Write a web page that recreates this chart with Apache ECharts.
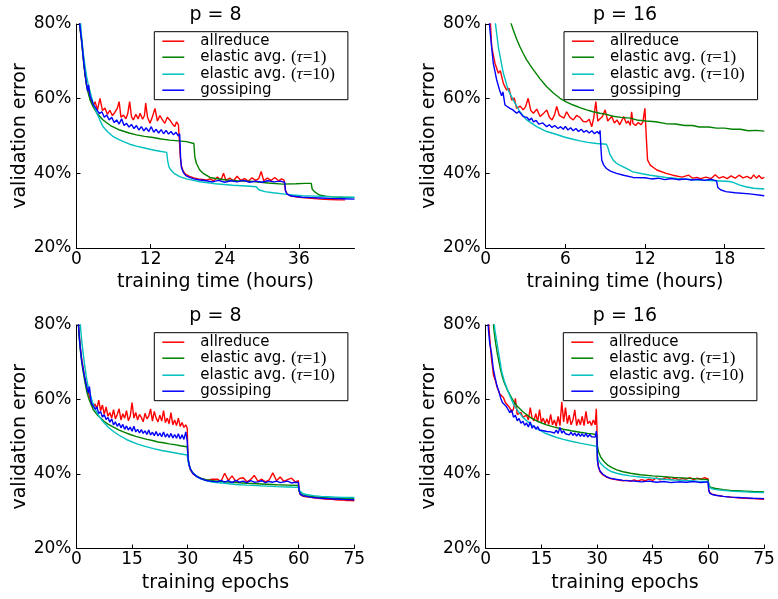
<!DOCTYPE html>
<html>
<head>
<meta charset="utf-8">
<script src="https://cdn.jsdelivr.net/npm/echarts@6/dist/echarts.min.js"></script>
<style>html,body{margin:0;padding:0;background:#fff}#c{width:778px;height:599px}</style>
</head>
<body>
<div id="c"></div>
<script>
// ---------- names / ticks ----------
const seriesNames = ['allreduce', 'elastic avg. (τ=1)', 'elastic avg. (τ=10)', 'gossiping'];
const panelTitles = ['p = 8', 'p = 16', 'p = 8', 'p = 16'];
const xNames = ['training time (hours)', 'training time (hours)', 'training epochs', 'training epochs'];
const xMax = [45, 21, 75, 75];
const xInterval = [12, 6, 15, 15];
const yTicks = [20, 40, 60, 80];

// ---------- top-left: p = 8, hours ----------
const tlAllreduce = [[0.3,84],[0.55,79],[0.84,75.7],[1.1,71.2],[1.37,66.8],[1.65,63.7],[1.9,61.9],[2.2,60.5],[2.5,59.2],[2.8,58.3],
[3.0,59.2],[3.4,57.0],[3.8,60.1],[4.2,56.8],[4.6,57.5],[5.0,55.8],[5.4,56.9],[5.8,55.5],[6.2,56.3],[6.6,57.4],[6.9,59.2],[7.2,55.0],[7.6,55.6],[8.0,54.6],[8.3,56.0],[8.6,59.2],[8.9,55.2],[9.2,54.3],[9.6,55.8],[10.0,54.6],[10.3,56.1],[10.7,54.5],[11.0,55.5],[11.2,58.8],[11.5,55.0],[11.9,53.4],[12.3,55.2],[12.7,57.4],[13.1,54.0],[13.5,55.5],[13.9,54.3],[14.3,53.4],[14.7,55.0],[15.1,54.3],[15.5,53.3],[15.9,52.5],[16.2,53.8],[16.5,53.0],[16.7,52.6],
[16.8,44.5],[17.0,41.8],[17.3,40.5],[17.7,39.7],[18.3,39.2],[19,38.8],[20,38.4],[21,38.2],
[21.6,38.5],[22.2,38.0],[22.8,39.0],[23.4,38.2],[23.8,40.0],[24.2,38.1],[24.8,38.7],[25.4,38.0],[26.0,39.2],[26.6,38.1],[27.2,38.6],[27.8,37.9],[28.4,38.8],[29.0,38.1],[29.5,38.6],[29.9,40.5],[30.3,38.0],[30.9,38.7],[31.5,38.1],[32.1,38.9],[32.7,38.0],[33.2,38.5],[33.6,38.2],
[33.8,35.5],[34.1,34.5],[34.6,34.0],[35.5,33.7],[36.5,33.5],[38,33.3],[39.5,33.1],[41,33.0],[42.5,32.9],[43.5,32.9]];
const tlElastic1 = [[0.3,84],[0.55,79],[0.84,75],[1.1,70.5],[1.37,66.5],[1.65,63.3],[1.9,61.5],[2.2,59.6],[2.7,57.8],[3.3,56.1],[4.3,54.3],[5.5,52.8],[7,51.6],[8.5,50.8],[9.7,50.3],[11,49.9],[12.4,49.6],[13.7,49.2],[15.1,48.9],[16.5,48.7],[17.8,48.5],[19.0,48.0],
[19.15,44.5],[19.4,42.7],[19.95,40.9],[20.5,40],[21,39.5],[21.6,38.9],[22.5,38.6],[24.3,38.2],[26,38.0],[28.6,37.8],[31,37.4],[33.4,37.1],[35.5,37.2],[37,37.3],[38,37.3],
[38.15,35.8],[38.5,35.1],[39.3,34.2],[40.3,33.9],[41.5,33.7],[43,33.6],[45,33.5]];
const tlElastic10 = [[0.5,84],[0.75,78],[1.1,72.1],[1.4,68.5],[1.65,65.9],[1.9,63.8],[2.2,61.9],[2.7,58.8],[3.3,56.1],[3.8,54.2],[4.3,52.5],[5,51.2],[5.95,49.8],[6.8,49.1],[7.6,48.5],[8.6,47.8],[9.7,47.3],[11,46.8],[12.4,46.25],[13.5,45.9],[14.6,45.6],
[14.75,43.5],[14.95,41.8],[15.3,40.8],[15.8,40.0],[16.7,39.1],[17.8,38.5],[20,37.75],[22.5,37.2],[25.3,36.8],[27.5,36.6],[29.1,36.4],[29.3,36.7],
[29.5,35.6],[30.5,35.1],[31.8,34.8],[33.4,34.5],[35,34.2],[36.5,34.0],[38.8,33.9],[41.5,33.7],[45,33.6]];
const tlGossip = [[0.3,84],[0.55,79.5],[0.84,75.5],[1.1,71],[1.37,66.8],[1.65,63.4],[1.8,62],[1.95,63.7],[2.2,60.5],[2.5,59.5],[2.7,58.4],[3.0,57.8],
[3.3,57.0],[3.7,56.0],[4.1,56.5],[4.5,55.0],[4.9,55.6],[5.3,54.3],[5.7,55.0],[6.1,53.6],[6.5,54.3],[6.9,53.2],[7.3,54.6],[7.7,52.8],[8.1,53.4],[8.5,52.4],[8.9,53.1],[9.3,52.0],[9.7,52.8],[10.1,51.6],[10.5,52.5],[10.9,51.4],[11.3,52.2],[11.7,51.2],[12.1,52.5],[12.5,51.0],[12.9,51.8],[13.3,50.8],[13.7,51.7],[14.1,50.6],[14.5,51.5],[14.9,50.5],[15.3,51.2],[15.7,50.3],[16.1,51.0],[16.5,50.0],[16.7,50.6],
[16.85,44],[17.0,41.5],[17.3,40.2],[17.7,39.4],[18.3,38.9],[19,38.5],[20,38.2],[21,38.0],
[22,37.7],[23,38.1],[24,37.6],[25,38.0],[26,37.7],[27,38.1],[28,37.6],[29,37.9],[30,37.6],[31,38.0],[32,37.7],[33,37.9],[33.7,37.6],
[33.85,35.2],[34.1,34.4],[34.6,34.0],[35.5,33.8],[36.5,33.6],[38,33.5],[39.5,33.4],[41,33.3],[43,33.2],[45,33.1]];

// ---------- top-right: p = 16, hours ----------
const trAllreduce = [[0.3,84],[0.45,73.9],[0.7,69.5],[0.95,66.8],[1.1,67.5],[1.33,64.1],[1.58,62.3],[1.75,62.8],[1.96,59.6],[2.15,60.2],[2.33,57.4],[2.6,58.0],[2.83,57.0],[3.0,57.8],[3.2,60.1],[3.4,56.8],[3.6,56.1],[3.85,57.2],[4.1,55.2],[4.35,56.0],[4.6,57.0],[4.8,55.0],[5.0,54.3],[5.2,55.8],[5.35,57.9],[5.55,55.5],[5.7,55.8],[5.9,54.8],[6.1,56.5],[6.35,55.0],[6.6,54.3],[6.85,55.5],[7.1,55.0],[7.35,53.9],[7.6,53.8],[7.8,54.5],[8.0,52.5],[8.15,55.0],[8.3,59.2],[8.45,54.0],[8.6,54.3],[8.8,55.2],[9.0,57.0],[9.2,54.0],[9.5,55.2],[9.7,53.5],[9.9,54.3],[10.1,53.0],[10.4,55.2],[10.6,53.4],[10.75,54.0],[10.9,52.8],[11.0,56.5],[11.1,53.4],[11.3,52.8],[11.5,53.6],[11.7,53.0],[11.85,53.8],[12.0,57.4],[12.1,50.0],
[12.2,43.6],[12.4,42.2],[12.9,40.9],[13.6,40.0],[14.1,39.5],[14.8,39.0],[15.3,39.5],[15.6,38.7],[15.9,38.9],[16.2,38.6],[16.6,39.0],[17.0,38.6],[17.3,39.6],[17.6,38.7],[17.9,39.1],[18.2,38.6],[18.5,39.3],[18.8,38.7],[19.1,39.5],[19.4,38.8],[19.7,39.2],[20.0,38.6],[20.2,39.6],[20.4,38.7],[20.6,39.4],[20.8,38.6],[21.0,38.9]];
const trElastic1 = [[1.83,81],[2.08,78.4],[2.33,76.0],[2.58,73.9],[2.83,72.1],[3.09,70.4],[3.35,69.0],[3.6,67.7],[4.1,65.3],[4.6,63.2],[5.1,61.5],[5.6,60.1],[6.1,59.1],[6.6,58.3],[7.1,57.6],[7.6,57.0],[8.1,56.5],[8.6,56.1],[9.1,55.8],[9.6,55.3],[10.2,55.0],[10.9,54.8],[11.5,54.2],[12.1,54.0],[12.8,53.8],[13.6,53.3],[14.3,53.2],[15,52.8],[15.6,52.8],[16.1,52.4],[16.8,52.4],[17.4,52.1],[18,52.1],[18.6,51.8],[19.2,51.8],[19.8,51.4],[20.4,51.5],[21,51.3]];
const trElastic10 = [[0.6,84],[0.95,73.9],[1.33,66.8],[1.7,62.3],[2.08,59.6],[2.58,56.5],[3.09,54.3],[3.84,52.5],[4.6,51.2],[5.35,50.4],[5.85,49.8],[6.5,49.2],[7.1,48.7],[7.7,48.3],[8.36,48.0],[9.1,47.8],[9.2,47.0],
[9.35,45.2],[9.6,43.6],[9.86,42.7],[10.1,42.2],[10.6,41.3],[11.1,40.4],[11.8,39.9],[12.4,39.5],[13.6,38.9],[14.8,38.5],[16.1,38.2],[17.3,38.0],[18.4,37.8],[18.7,37.5],[19.1,36.9],[19.6,36.4],[20.2,36.0],[21,35.8]];
const trGossip = [[0.2,84],[0.32,78.4],[0.57,69.5],[0.83,65],[1.08,61.9],[1.2,60.8],[1.3,61.8],[1.45,58.3],[1.6,58.8],[1.83,57.4],[2.05,57.0],[2.33,56.1],[2.5,56.6],[2.83,55.2],[3.1,55.0],[3.3,54.2],[3.45,54.8],[3.6,53.8],[3.8,54.2],[4.0,53.2],[4.3,53.5],[4.6,52.5],[4.8,53.0],[5.0,52.3],[5.2,52.8],[5.45,52.0],[5.65,52.5],[5.85,51.8],[6.0,52.6],[6.2,51.6],[6.4,52.2],[6.6,51.4],[6.8,52.0],[7.0,51.2],[7.2,51.8],[7.4,51.0],[7.6,51.5],[7.8,50.8],[8.0,51.4],[8.2,50.6],[8.4,51.2],[8.55,50.6],[8.62,51.5],
[8.7,46.0],[8.75,43.5],[8.9,42.2],[9.1,41.3],[9.4,40.6],[9.86,40.0],[10.4,39.5],[11.1,38.9],[12,38.8],[12.5,38.5],[13,38.7],[13.5,38.3],[14,38.6],[14.5,38.3],[15,38.5],[15.5,38.2],[16,38.4],[16.5,38.1],[17,38.4],[17.4,38.0],
[17.5,36.2],[17.7,35.6],[18.1,35.1],[18.8,34.8],[19.9,34.5],[21,34.0]];

// ---------- bottom-left: p = 8, epochs ----------
const blAllreduce = [[0.4,82],[0.7,78],[1,74.5],[1.4,71],[1.8,68.5],[2.3,65.5],[2.8,63.3],[3.3,61.5],[3.8,60],
[4,59.0],[4.5,58.2],[5,58.8],[5.5,57.5],[6,59.8],[6.5,57.0],[7,58.5],[7.5,56.0],[8,58.0],[8.5,55.5],[9,56.5],[9.5,55.0],[10,57.3],[10.5,54.8],[11,56.0],[11.5,57.5],[12,54.5],[12.5,56.2],[13,55.0],[13.5,57.0],[14,54.3],[14.5,55.5],[15,59.2],[15.5,55.0],[16,56.5],[16.5,54.5],[17,56.0],[17.5,55.2],[18,54.0],[18.5,56.3],[19,54.8],[19.5,55.5],[20,57.5],[20.5,54.2],[21,56.8],[21.5,55.0],[22,54.0],[22.5,55.8],[23,54.2],[23.5,57.0],[24,53.8],[24.5,55.0],[25,53.5],[25.5,56.5],[26,53.2],[26.5,54.5],[27,53.0],[27.5,55.0],[28,52.8],[28.5,53.8],[29,52.5],[29.5,53.2],[29.9,52.3],
[30.1,44],[30.4,42.2],[30.8,41],[31.5,40],[32.5,39.3],[33.5,38.8],[34.5,38.5],[35.5,38.3],[36.5,38.6],[37,38.1],[38,38.6],[39,38.0],[40,40.2],[41,38.3],[42,39.5],[43,38.0],[44,38.8],[45,39.0],[46,37.9],[47,38.5],[48,39.6],[49,38.0],[50,38.6],[51,37.9],[52,38.4],[53,40.3],[54,38.2],[55,39.2],[56,38.0],[57,38.5],[58,38.9],[59,37.9],[59.9,38.2],
[60.1,35.5],[60.4,34.5],[61,34.1],[62,33.9],[63,33.8],[64,33.6],[65,33.5],[66,33.4],[67,33.3],[68,33.2],[69,33.2],[70,33.1],[71,33.0],[72,33.0],[73,32.9],[74,32.9],[75,32.8]];
const blElastic1 = [[0.4,82],[0.7,77],[1,73.5],[1.4,70],[1.8,67.5],[2.3,64.5],[2.8,62],[3.3,60.3],[3.8,59],[4.5,57.3],[5.5,56],[6.5,55],[7.5,54.1],[8.5,53.4],[10,52.6],[11.5,51.8],[13,51.2],[14.5,50.6],[16,50.1],[17.5,49.7],[19,49.3],[20.5,49],[22,48.6],[23.5,48.4],[25,48.1],[26.5,47.9],[28,47.6],[29.9,47.3],
[30.1,44.2],[30.4,42.5],[30.8,41.3],[31.5,40.2],[32.5,39.4],[33.5,38.9],[35,38.5],[37,38.2],[40,37.9],[43,37.7],[46,37.5],[50,37.3],[54,37.1],[57,37.0],[59.9,36.9],
[60.1,35.5],[60.4,34.8],[61,34.4],[62,34.2],[64,33.9],[66,33.7],[68,33.6],[70,33.5],[72,33.4],[75,33.4]];
const blElastic10 = [[0.9,82],[1.2,78],[1.5,75],[1.85,72],[2.3,68.5],[2.75,65.5],[3.2,63.2],[3.65,61.5],[4.1,60],[4.55,58.7],[5,57.6],[5.45,56.6],[6.3,55.2],[7.2,54],[8.5,52.6],[10,51.4],[11.5,50.4],[13.6,49.2],[16.3,48.1],[18.5,47.4],[20.8,46.8],[23,46.3],[25.3,45.9],[27.5,45.5],[29.9,45.1],
[30.1,43.5],[30.4,42.2],[30.8,41.2],[31.5,40.2],[32.5,39.3],[33.5,38.7],[35,38.2],[37,37.8],[40,37.5],[43,37.2],[46,37.0],[50,36.8],[54,36.6],[57,36.5],[59.9,36.4],
[60.1,35.6],[60.4,35.1],[61,34.8],[62,34.5],[64,34.2],[66,34.0],[68,33.9],[70,33.8],[72,33.7],[75,33.7]];
const blGossip = [[0.4,82],[0.7,77.5],[1,74],[1.4,70.5],[1.8,68],[2.3,65.5],[2.8,63.2],[3.2,61.8],[3.5,63.5],[3.8,60.5],
[4,59.0],[4.5,58.3],[5,57.4],[5.5,58.0],[6,56.2],[6.5,56.8],[7,55.3],[7.5,55.9],[8,54.6],[8.5,55.2],[9,53.9],[9.5,54.8],[10,53.2],[10.5,54.0],[11,52.8],[11.5,53.6],[12,52.4],[12.5,53.3],[13,52.0],[13.5,52.9],[14,51.8],[14.5,52.6],[15,51.5],[15.5,52.8],[16,51.3],[16.5,52.0],[17,51.0],[17.5,51.9],[18,50.9],[18.5,51.6],[19,50.6],[19.5,51.8],[20,50.5],[20.5,51.2],[21,50.3],[21.5,51.4],[22,50.2],[22.5,51.0],[23,50.0],[23.5,51.3],[24,49.9],[24.5,50.8],[25,49.8],[25.5,50.9],[26,49.7],[26.5,50.6],[27,49.6],[27.5,50.8],[28,49.4],[28.5,50.5],[29,49.3],[29.5,51.3],[29.9,48.8],
[30.1,44.5],[30.4,42.5],[30.8,41.2],[31.5,40.1],[32.5,39.3],[33.5,38.8],[34.5,38.4],[36,38.1],[38,37.9],[39,38.3],[40,37.8],[41,38.2],[42,37.7],[43,38.3],[44,37.8],[45,38.1],[46,37.7],[47,38.2],[48,37.8],[49,37.9],[50,38.2],[51,37.7],[52,38.0],[53,37.8],[54,38.1],[55,37.7],[56,37.9],[57,38.1],[58,37.6],[59,37.8],[59.9,37.7],
[60.1,35.6],[60.4,34.6],[61,34.2],[62,34.0],[63,33.8],[64,33.7],[65,33.6],[66,33.5],[68,33.4],[70,33.3],[72,33.2],[75,33.1]];

// ---------- bottom-right: p = 16, epochs ----------
const brAllreduce = [[0.6,82],[0.9,79],[1.2,75],[1.5,71.5],[1.8,69],[2.1,66.5],[2.4,67.0],[2.7,64.8],[3,63.5],[3.4,63.0],[3.8,61.5],[4.2,61.8],[4.8,60.5],[5.3,59.2],[5.8,58.8],[6.3,58.0],[6.8,57.2],
[7,56.5],[7.5,57.5],[8,60.3],[8.5,56.0],[9,55.5],[9.5,56.5],[10,55.2],[10.5,54.8],[11,55.8],[11.5,54.5],[12,57.8],[12.5,55.0],[13,54.3],[13.5,56.2],[14,54.0],[14.5,57.3],[15,53.8],[15.5,55.0],[16,53.5],[16.5,54.8],[17,53.3],[17.5,56.0],[18,53.2],[18.5,54.5],[19,52.8],[19.5,55.5],[20,53.0],[20.5,59.4],[21,54.0],[21.5,57.8],[22,53.5],[22.5,55.8],[23,53.2],[23.5,54.5],[24,57.2],[24.5,53.0],[25,54.8],[25.5,53.2],[26,55.5],[26.5,53.0],[27,56.8],[27.5,53.5],[28,54.2],[28.5,53.0],[29,54.5],[29.5,53.2],[29.8,57.5],[29.95,53.0],
[30.1,44],[30.4,41.8],[30.8,40.6],[31.5,39.8],[32.5,39.2],[33.5,38.8],[35,38.5],[37,38.2],[38,38.3],[39,38.0],[40,38.4],[41,38.1],[42,38.5],[43,38.2],[44,38.6],[45,38.3],[46,39.0],[47,38.4],[48,38.8],[49,39.1],[50,38.5],[51,38.9],[52,38.4],[53,38.8],[54,38.6],[55,39.0],[56,38.5],[57,38.9],[58,38.6],[59,39.0],[59.9,38.7],
[60.1,35.8],[60.4,35.0],[61,34.6],[62,34.3],[64,34.0],[66,33.8],[68,33.6],[70,33.5],[72,33.4],[75,33.2]];
const brElastic1 = [[1.9,82],[2.3,78],[2.7,75],[3.1,72.5],[3.5,70.5],[4,68],[4.5,66],[5,64.5],[5.65,63],[6.5,61.3],[7.5,59.5],[8.5,58.2],[10,56.7],[12,55.2],[14,54.1],[16.4,53.2],[18.5,52.6],[20.9,52],[23,51.6],[25.4,51.2],[27.5,50.9],[29.9,50.6],
[30.1,47.5],[30.4,46.0],[31,44.5],[32,43.2],[33,42.3],[34,41.7],[35.3,41.1],[37,40.6],[39,40.2],[41.6,39.8],[45,39.5],[48,39.3],[50.6,39.1],[54,38.9],[57,38.7],[59.9,38.5],
[60.1,37.3],[60.4,36.6],[61,36.3],[62,36.1],[64,35.8],[66,35.6],[68,35.5],[70,35.4],[72,35.3],[75,35.2]];
const brElastic10 = [[2.1,82],[2.5,78.5],[3,75.5],[3.4,73],[3.9,70],[4.3,67.5],[5,65],[5.65,63.2],[6.5,61],[7.5,58.7],[8.5,57.2],[10,55.2],[12,53.5],[13.7,52.2],[16.4,50.8],[18.5,50],[20.9,49.3],[23,48.8],[25.4,48.3],[27.5,47.9],[29.9,47.4],
[30.1,45],[30.4,43.8],[31,42.8],[32,41.8],[33,41.1],[34,40.6],[35.3,40.2],[37,39.8],[39,39.5],[41.6,39.2],[45,38.9],[48,38.6],[50.6,38.4],[54,38.3],[57,38.1],[59.9,38.0],
[60.1,37],[60.4,36.4],[61,36.0],[62,35.8],[64,35.6],[66,35.4],[68,35.3],[70,35.2],[72,35.1],[75,35.0]];
const brGossip = [[0.5,82],[0.8,78],[1.1,75],[1.6,72.2],[2,68.5],[2.5,66],[3,63.8],[3.5,62.3],[4,60.5],
[4.5,59.2],[5,59.0],[5.5,58.2],[6,57.8],[6.5,56.5],[7,57.2],[7.5,55.2],[8,55.8],[8.5,54.3],[9,54.9],[9.5,53.6],[10,54.2],[10.5,53.1],[11,53.7],[11.5,52.6],[12,54.0],[12.5,52.3],[13,53.0],[13.5,52.0],[14,52.7],[14.5,51.8],[15,52.3],[15.5,51.6],[16,52.1],[16.5,51.4],[17,51.9],[17.5,51.3],[18,51.6],[18.5,51.0],[19,51.8],[19.5,50.9],[20,52.5],[20.5,51.0],[21,51.6],[21.5,50.8],[22,51.3],[22.5,50.5],[23,51.2],[23.5,50.4],[24,51.0],[24.5,50.2],[25,50.9],[25.5,50.1],[26,50.8],[26.5,50.0],[27,50.9],[27.5,49.9],[28,50.6],[28.5,50.0],[29,50.5],[29.5,49.9],[29.8,51.5],[29.95,50.2],
[30.1,43.5],[30.4,41.8],[30.8,40.8],[31.5,40.0],[32.5,39.3],[33.5,38.9],[35,38.6],[37,38.3],[40,38.1],[42,37.9],[44,38.1],[46,37.8],[48,38.0],[50,37.7],[52,37.9],[54,37.8],[56,38.0],[58,37.7],[59.9,37.9],
[60.1,35.5],[60.4,34.8],[61,34.5],[62,34.3],[64,34.0],[66,33.8],[68,33.7],[70,33.6],[72,33.5],[75,33.4]];

const panelData = [
  [tlAllreduce, tlElastic1, tlElastic10, tlGossip],
  [trAllreduce, trElastic1, trElastic10, trGossip],
  [blAllreduce, blElastic1, blElastic10, blGossip],
  [brAllreduce, brElastic1, brElastic10, brGossip]
];
const colors = ['#ff0000', '#008000', '#00bfbf', '#0000ff'];

// ---------- layout ----------
const grids = [
  {left: 76.5, top: 24, width: 278, height: 224},
  {left: 485.7, top: 24, width: 278.6, height: 224},
  {left: 76.5, top: 325, width: 277.8, height: 223.5},
  {left: 485.7, top: 325, width: 278.4, height: 223.5}
];
const legendPos = [[154.3, 31.7], [564, 31.7], [154.3, 332.7], [563.3, 332.7]];
const FONT = 'DejaVu Sans';

const option = {
  animation: false,
  backgroundColor: '#fff',
  textStyle: {fontFamily: FONT},
  title: grids.map((g, i) => ({
    text: panelTitles[i],
    left: g.left + g.width / 2,
    top: i < 2 ? 6 : 307,
    textAlign: 'center',
    padding: 0,
    textStyle: {fontFamily: FONT, fontSize: 19, fontWeight: 'normal', color: '#000'}
  })),
  grid: grids.map(g => Object.assign({containLabel: false}, g)),
  xAxis: grids.map((g, i) => ({
    type: 'value', gridIndex: i, min: 0, max: xMax[i], interval: xInterval[i],
    name: xNames[i], nameLocation: 'middle', nameGap: 25,
    nameTextStyle: {fontFamily: FONT, fontSize: 19, color: '#000'},
    axisLine: {show: true, onZero: false, lineStyle: {color: '#000', width: 1}},
    axisTick: {show: true, inside: true, length: 4, lineStyle: {color: '#000'}},
    axisLabel: {fontFamily: FONT, fontSize: 17, color: '#000', margin: 3, showMaxLabel: xMax[i] % xInterval[i] === 0},
    splitLine: {show: false}
  })),
  yAxis: grids.map((g, i) => ({
    type: 'value', gridIndex: i, min: yTicks[0], max: yTicks[yTicks.length - 1], interval: 20,
    name: 'validation error', nameLocation: 'middle', nameGap: 35,
    nameTextStyle: {fontFamily: FONT, fontSize: 19, color: '#000'},
    axisLine: {show: true, lineStyle: {color: '#000', width: 1}},
    axisTick: {show: true, inside: true, length: 4, lineStyle: {color: '#000'}},
    axisLabel: {fontFamily: FONT, fontSize: 17, color: '#000', margin: 5, formatter: '{value}%'},
    splitLine: {show: false}
  })),
  legend: legendPos.map(p => ({
    data: seriesNames,
    orient: 'vertical',
    left: p[0], top: p[1],
    icon: 'rect',
    itemWidth: 22, itemHeight: 1.5, itemGap: 0,
    padding: [2, 13, 2, 8],
    borderColor: '#000', borderWidth: 1, borderRadius: 0,
    backgroundColor: '#fff',
    selectedMode: false,
    textStyle: {
      fontFamily: FONT, fontSize: 15, color: '#000', lineHeight: 15,
      rich: {
        g: {width: 11, height: 15, lineHeight: 15},
        n: {fontFamily: FONT, fontSize: 15, color: '#000', lineHeight: 15},
        s: {fontFamily: 'Liberation Serif', fontSize: 17, color: '#000', lineHeight: 15},
        t: {fontFamily: 'Liberation Serif', fontStyle: 'italic', fontSize: 17, color: '#000', lineHeight: 15}
      }
    },
    formatter: function (name) {
      const m = name.match(/^(.*\s)\(τ=(\d+)\)$/);
      if (m) return '{g|}{n|' + m[1] + '}{s|(}{t|τ}{s|=' + m[2] + ')}';
      return '{g|}{n|' + name + '}';
    }
  })),
  series: []
};

panelData.forEach((arrs, p) => {
  arrs.forEach((d, k) => {
    option.series.push({
      type: 'line', name: seriesNames[k], xAxisIndex: p, yAxisIndex: p,
      data: d, symbol: 'none', showSymbol: false, clip: true,
      lineStyle: {color: colors[k], width: 1.4},
      itemStyle: {color: colors[k]},
      emphasis: {disabled: true}
    });
  });
});

const chart = echarts.init(document.getElementById('c'), null, {renderer: 'canvas'});
chart.setOption(option);
</script>
</body>
</html>
